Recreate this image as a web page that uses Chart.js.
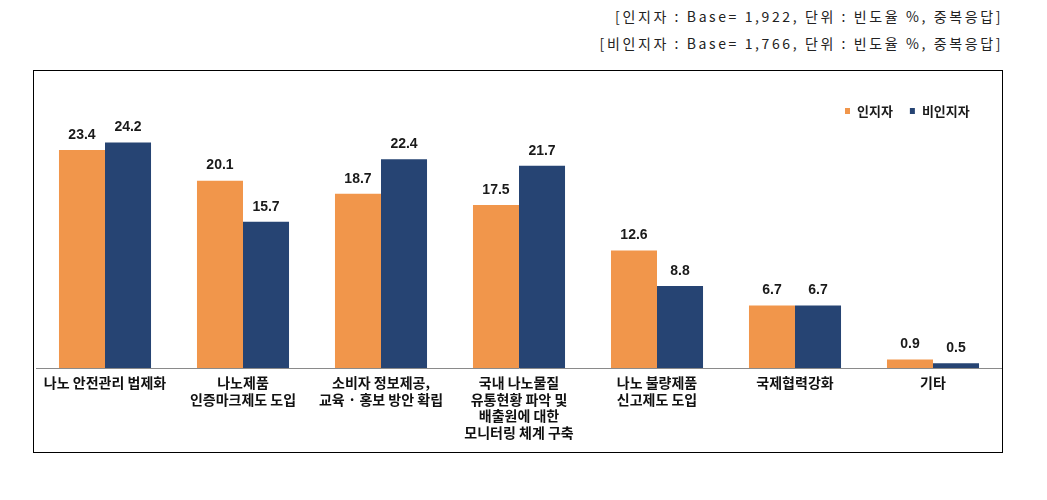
<!DOCTYPE html>
<html>
<head>
<meta charset="utf-8">
<script src="https://cdn.jsdelivr.net/npm/chart.js@4/dist/chart.umd.min.js"></script>
<style>
  html, body { margin: 0; padding: 0; background: #fff; }
  body { width: 1047px; height: 500px; position: relative; overflow: hidden; }
  .hdr { position: absolute; right: 44px; font: 14px "Noto Sans CJK KR", "DejaVu Sans", sans-serif; color: #222; white-space: nowrap; letter-spacing: 2.6px; }
  #frame { position: absolute; left: 33px; top: 70px; width: 968px; height: 381px; border: 1px solid #000; }
  #wrap { position: absolute; left: 36px; top: 71px; width: 966px; height: 381px; }
</style>
</head>
<body>
<div class="hdr" style="top:6px">[인지자 : Base= 1,922, 단위 : 빈도율 %, 중복응답]</div>
<div class="hdr" style="top:33px">[비인지자 : Base= 1,766, 단위 : 빈도율 %, 중복응답]</div>
<div id="frame"></div>
<div id="wrap"><canvas id="c"></canvas></div>
<script>
const categories = [
  ["나노 안전관리 법제화"],
  ["나노제품", "인증마크제도 도입"],
  ["소비자 정보제공,", "교육 · 홍보 방안 확립"],
  ["국내 나노물질", "유통현황 파악 및", "배출원에 대한", "모니터링 체계 구축"],
  ["나노 불량제품", "신고제도 도입"],
  ["국제협력강화"],
  ["기타"]
];
const seriesNames = ["인지자", "비인지자"];
const aware = [23.4, 20.1, 18.7, 17.5, 12.6, 6.7, 0.9];
const unaware = [24.2, 15.7, 22.4, 21.7, 8.8, 6.7, 0.5];
const colors = ["#F1964B", "#264473"];

const valueLabels = {
  id: 'valueLabels',
  afterDatasetsDraw(chart) {
    const ctx = chart.ctx;
    ctx.save();
    ctx.font = 'bold 14px "Liberation Sans", Arial, sans-serif';
    ctx.fillStyle = '#1a1a1a';
    ctx.textAlign = 'center';
    ctx.textBaseline = 'bottom';
    chart.data.datasets.forEach((ds, i) => {
      chart.getDatasetMeta(i).data.forEach((bar, j) => {
        ctx.fillText(ds.data[j].toFixed(1), bar.x, bar.y - 8);
      });
    });
    ctx.restore();
  }
};

const customLegend = {
  id: 'customLegend',
  afterDraw(chart) {
    const ctx = chart.ctx;
    ctx.save();
    ctx.font = 'bold 13px "Noto Sans CJK KR", sans-serif';
    ctx.textBaseline = 'middle';
    ctx.textAlign = 'left';
    let x = 809;
    const y = 40;
    chart.data.datasets.forEach((ds) => {
      ctx.fillStyle = ds.backgroundColor;
      ctx.fillRect(x, y - 3, 5, 6);
      ctx.fillStyle = '#1a1a1a';
      ctx.fillText(ds.label, x + 12, y);
      x += 12 + ctx.measureText(ds.label).width + 17;
    });
    ctx.restore();
  }
};

new Chart(document.getElementById('c'), {
  type: 'bar',
  data: {
    labels: categories,
    datasets: [
      { label: seriesNames[0], data: aware, backgroundColor: colors[0] },
      { label: seriesNames[1], data: unaware, backgroundColor: colors[1] }
    ]
  },
  options: {
    responsive: true,
    maintainAspectRatio: false,
    animation: false,
    layout: { padding: { top: 36, left: 0, right: 0, bottom: 0 } },
    datasets: { bar: { categoryPercentage: 0.667, barPercentage: 1.0 } },
    plugins: { legend: { display: false }, tooltip: { enabled: false } },
    scales: {
      x: {
        grid: { display: false, drawTicks: false },
        border: { display: true, color: '#8a8a8a', width: 1 },
        ticks: {
          color: '#111',
          font: { family: '"Noto Sans CJK KR", sans-serif', size: 14, weight: 'bold', lineHeight: 1.2 },
          padding: 6,
          maxRotation: 0,
          autoSkip: false
        },
        afterFit(s) { s.height = 84; }
      },
      y: { display: false, min: 0, max: 28 }
    }
  },
  plugins: [valueLabels, customLegend]
});
</script>
</body>
</html>
